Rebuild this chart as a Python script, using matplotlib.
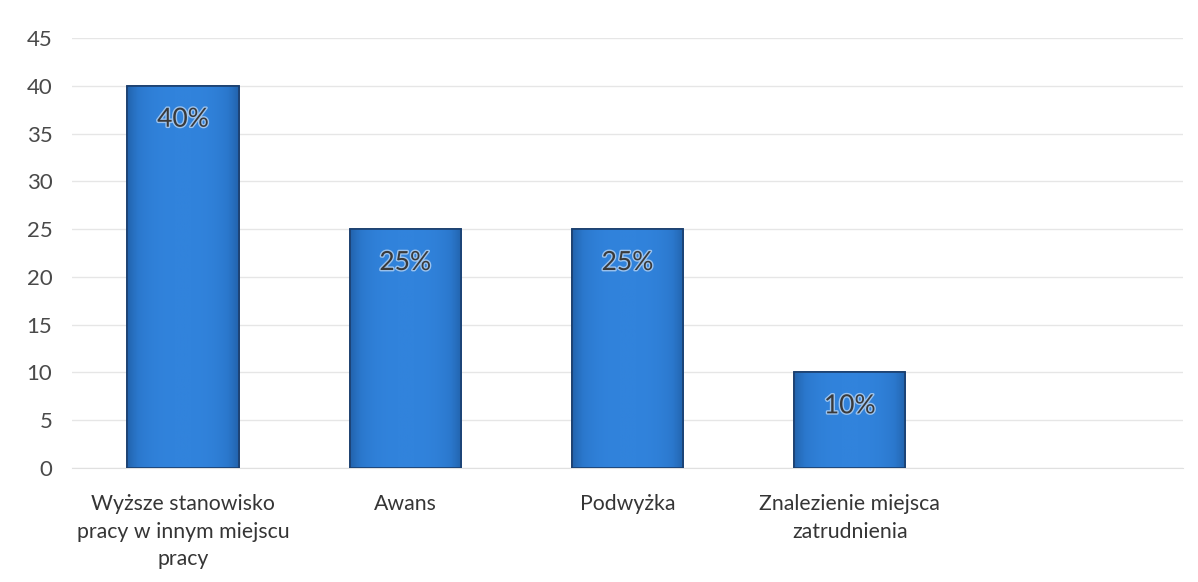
import numpy as np
import matplotlib.pyplot as plt
import matplotlib.patheffects as pe

categories = ["Wyższe stanowisko\npracy w innym miejscu\npracy", "Awans", "Podwyżka",
              "Znalezienie miejsca\nzatrudnienia", ""]
values = [40, 25, 25, 10, 0]
labels = ["40%", "25%", "25%", "10%", ""]

plt.rcParams['font.family'] = ['Lato', 'DejaVu Sans']

fig = plt.figure(figsize=(11.98, 5.82), dpi=100)
ax = fig.add_axes([0.060, 0.196, 0.9275, 0.7387])

x = np.arange(len(categories))
shown = x[:4]
bars = ax.bar(shown, values[:4], width=0.5, color="#2e7cd4", edgecolor="#1b3f6e",
              linewidth=1.2, zorder=3)

# soft horizontal gradient inside each bar (slightly darker towards the edges)
grad = np.abs(np.linspace(-1, 1, 256)) ** 3
grad = np.vstack([grad, grad])
cmap = plt.matplotlib.colors.LinearSegmentedColormap.from_list(
    "bar", ["#3183dc", "#2b78cd", "#2262ab"])
for b in bars:
    im = ax.imshow(grad, cmap=cmap, aspect="auto", zorder=3.5,
                   extent=[b.get_x(), b.get_x() + b.get_width(), 0, b.get_height()])
    im.set_clip_path(b)
    ax.bar(b.get_x() + b.get_width() / 2, b.get_height(), width=b.get_width(),
           color="none", edgecolor="#1b3f6e", linewidth=1.2, zorder=4)

for xi, v, lab in zip(shown, values, labels):
    ax.text(xi, v - 3.5, lab, ha="center", va="center", fontsize=19, color="#3a3a3a",
            zorder=5, path_effects=[pe.withStroke(linewidth=2, foreground="#9cc3ee")])

ax.set_xlim(-0.5, len(categories) - 0.5)
ax.set_ylim(0, 45)
ax.set_yticks(range(0, 46, 5))
ax.set_xticks(x)
ax.set_xticklabels(categories, fontsize=15.3, color="#353535", linespacing=1.46)
ax.tick_params(axis="y", labelsize=16, labelcolor="#4a4a4a", length=0, pad=14)
ax.tick_params(axis="x", length=0, pad=19)
ax.yaxis.grid(True, color="#e6e6e6", linewidth=1, zorder=0)
ax.set_axisbelow(True)
for s in ["top", "right", "left"]:
    ax.spines[s].set_visible(False)
ax.spines["bottom"].set_color("#e0e0e0")

fig.savefig("out.png", dpi=100)
